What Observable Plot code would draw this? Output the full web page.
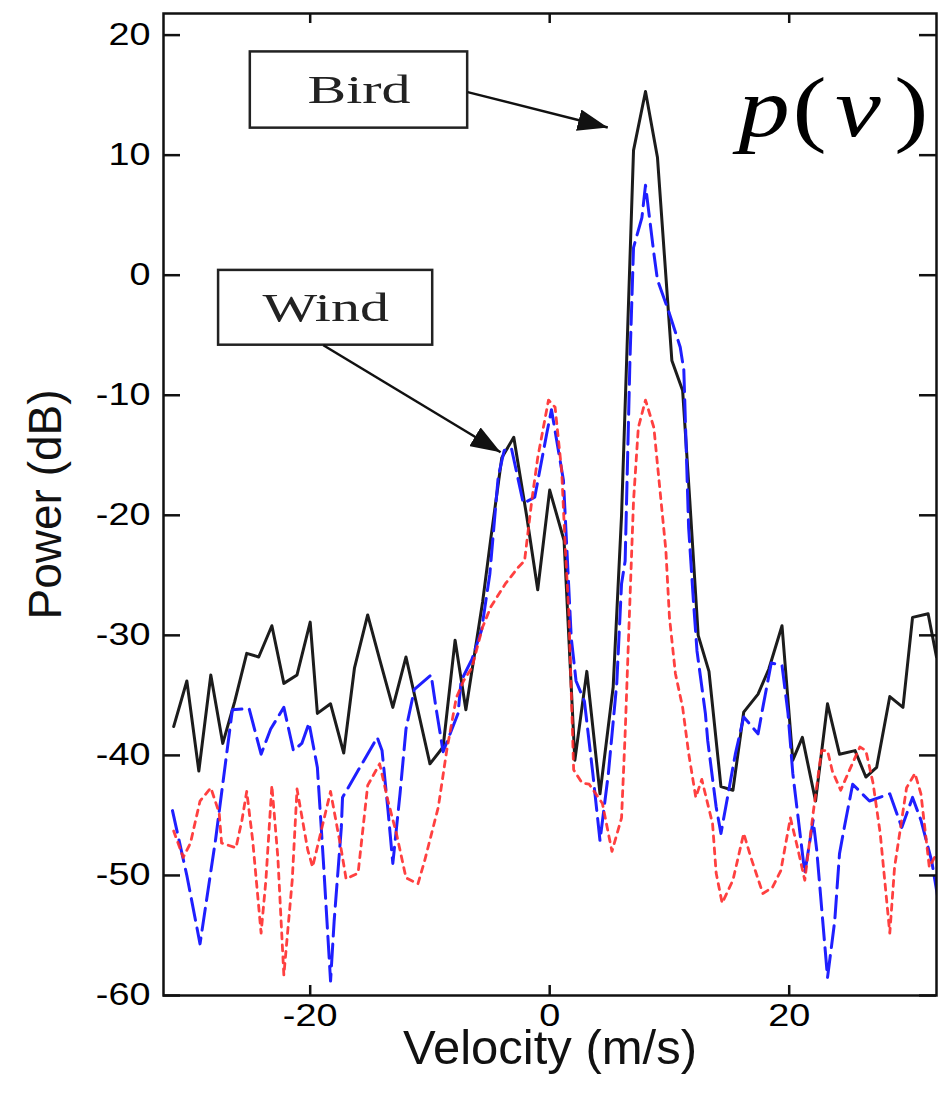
<!DOCTYPE html>
<html><head><meta charset="utf-8">
<script src="https://cdn.jsdelivr.net/npm/d3@7"></script>
<script src="https://cdn.jsdelivr.net/npm/@observablehq/plot@0.6"></script>
<style>
html,body{margin:0;padding:0;background:#fff;}
#chart{width:948px;height:1094px;overflow:hidden;}
</style></head><body><div id="chart"></div>
<script>
// ---- data: velocity (m/s) and power (dB) ----
const blackV = [-31.4,-30.3,-29.3,-28.3,-27.3,-26.3,-25.3,-24.3,-23.2,-22.2,-21.1,-20.0,-19.4,-18.3,-17.2,-16.3,-15.2,-14.2,-13.1,-12.0,-10.0,-8.9,-7.9,-7.0,-5.6,-4.9,-4.0,-3.0,-1.9,-1.0,0.0,1.2,2.1,3.1,4.2,5.3,6.0,7.0,8.0,9.0,10.2,11.1,11.7,12.4,13.3,14.3,15.3,16.2,17.4,18.3,19.4,20.3,21.1,22.2,23.2,24.2,25.5,26.4,27.3,28.4,29.5,30.3,31.6,32.3];
const blackP = [-37.6,-33.8,-41.3,-33.3,-39.0,-35.5,-31.5,-31.8,-29.2,-34.0,-33.3,-28.9,-36.5,-35.7,-39.8,-32.7,-28.3,-32.0,-36.0,-31.8,-40.7,-39.3,-30.4,-36.2,-27.2,-21.8,-15.2,-13.5,-20.2,-26.2,-17.9,-22.1,-40.4,-33.0,-43.2,-34.3,-20.0,10.4,15.3,9.8,-7.1,-9.6,-18.8,-30.0,-33.0,-42.6,-42.9,-36.4,-34.9,-32.8,-29.2,-40.4,-38.5,-43.8,-35.7,-39.9,-39.6,-41.8,-41.0,-35.1,-36.0,-28.5,-28.2,-31.8];

const blueV = [-31.5,-30.3,-29.2,-27.9,-26.5,-25.1,-24.1,-23.3,-22.2,-21.4,-20.7,-20.1,-19.4,-18.9,-18.3,-18.0,-17.4,-17.3,-14.4,-14.0,-13.5,-13.1,-12.5,-12.0,-11.3,-9.9,-9.5,-8.9,-7.65,-7.4,-6.5,-5.7,-5.0,-4.3,-3.8,-3.2,-2.2,-1.25,-0.25,0.15,1.15,1.8,2.2,2.9,3.6,4.2,4.9,5.6,6.0,6.3,6.7,7.0,7.7,8.0,8.7,9.0,10.0,10.9,11.2,11.6,12.0,12.3,13.0,13.2,13.9,14.3,15.1,15.5,16.2,17.4,17.8,18.5,19.4,19.9,20.3,21.3,22.0,22.3,23.2,23.8,24.2,24.6,25.3,26.7,28.4,29.4,30.3,31.0,31.9,32.4];
const blueP = [-44.6,-50.0,-55.7,-47.0,-36.2,-36.1,-39.9,-37.8,-36.0,-39.6,-39.0,-37.3,-41.0,-48.8,-58.8,-53.8,-46.0,-43.5,-38.5,-39.6,-44.6,-49.0,-43.2,-37.8,-34.5,-33.3,-36.0,-39.7,-36.5,-33.8,-32.0,-29.6,-24.9,-16.8,-14.6,-14.4,-19.0,-18.5,-13.2,-11.2,-17.1,-30.2,-33.8,-35.5,-41.5,-47.1,-41.5,-34.0,-25.7,-23.8,-7.1,2.3,4.8,7.5,1.8,-0.4,-3.2,-6.0,-7.9,-21.0,-27.1,-31.3,-36.5,-38.8,-44.3,-46.5,-42.1,-39.9,-36.8,-38.2,-36.0,-32.3,-32.5,-36.5,-41.5,-49.8,-45.4,-47.9,-58.5,-53.8,-48.2,-46.0,-42.4,-43.8,-43.2,-46.0,-43.5,-45.4,-48.8,-51.8];

const redV = [-31.4,-30.6,-30.0,-29.2,-28.3,-27.6,-27.4,-26.2,-25.7,-25.3,-24.8,-24.1,-23.7,-23.2,-22.7,-22.2,-21.5,-21.1,-20.2,-19.8,-18.3,-17.4,-17.0,-16.0,-15.2,-14.2,-13.5,-12.8,-12.0,-11.0,-10.45,-9.3,-8.6,-7.8,-7.2,-6.5,-5.6,-4.9,-3.7,-2.6,-2.1,-1.5,-1.0,-0.1,0.45,1.0,1.3,1.6,2.0,2.7,3.3,4.4,5.2,6.0,6.3,6.6,7.0,7.4,8.0,8.7,9.1,9.7,10.0,10.5,11.1,11.6,12.2,12.7,13.6,13.9,14.4,15.3,16.2,16.8,17.8,18.6,19.3,20.1,20.7,21.3,22.0,22.7,23.2,23.6,24.3,25.0,25.9,26.4,27.0,27.6,28.4,28.8,29.8,30.5,31.0,31.7,32.3];
const redP = [-46.3,-48.5,-47.3,-43.8,-42.7,-44.8,-47.3,-47.7,-45.4,-43.0,-47.1,-54.8,-50.4,-42.5,-48.5,-58.3,-50.4,-42.8,-47.9,-49.3,-43.0,-47.9,-50.3,-49.8,-42.5,-40.7,-43.8,-46.5,-50.2,-50.7,-48.8,-44.3,-39.6,-35.2,-33.8,-32.7,-29.3,-27.6,-25.7,-24.3,-23.8,-18.8,-15.2,-10.4,-11.0,-16.3,-22.7,-28.2,-41.2,-42.3,-42.4,-44.0,-48.0,-45.2,-38.2,-29.8,-18.8,-12.7,-10.4,-12.7,-16.8,-22.9,-28.5,-33.2,-36.0,-39.8,-43.5,-42.0,-45.7,-49.8,-52.3,-50.4,-46.5,-48.5,-51.5,-51.0,-49.6,-45.2,-47.7,-50.4,-44.8,-39.6,-39.6,-41.3,-42.9,-41.3,-39.3,-39.6,-42.3,-46.5,-54.8,-49.3,-42.7,-41.5,-43.2,-49.3,-48.2];

const xTicks = [-20, 0, 20];
const yTicks = [-60, -50, -40, -30, -20, -10, 0, 10, 20];
const xDomain = [-32.25, 32.3];
const yDomain = [-60, 21.8];

// annotations (data coordinates)
const boxLabels = ["Bird", "Wind"];
const boxX1 = [-25.0, -27.65], boxX2 = [-6.85, -9.77];
const boxY1 = [12.25, -5.83], boxY2 = [18.6, 0.4];
const arrowX1 = [-6.85, -18.9], arrowY1 = [15.25, -5.83];
const arrowX2 = [4.85, -4.1], arrowY2 = [12.3, -14.75];
const pvGlyphs = ["p", "(", "v", ")"];
const pvX = [17.9, 21.7, 25.75, 30.2];
const pvItalic = [true, false, true, false];
const pvY = 13.8;

const toRows = (V, P) => V.map((v, i) => ({v, p: P[i]}));
const black = toRows(blackV, blackP);
const blue = toRows(blueV, blueP);
const red = toRows(redV, redP);
const boxes = boxLabels.map((label, i) => ({label, x1: boxX1[i], x2: boxX2[i], y1: boxY1[i], y2: boxY2[i]}));
const arrows = arrowX1.map((x1, i) => ({x1, y1: arrowY1[i], x2: arrowX2[i], y2: arrowY2[i]}));
const pv = pvGlyphs.map((g, i) => ({g, x: pvX[i], y: pvY, italic: pvItalic[i]}));

function filledArrow(color) {
  const m = d3.create("svg:marker")
    .attr("viewBox", "-30 -11 30 22")
    .attr("markerWidth", 30).attr("markerHeight", 22)
    .attr("markerUnits", "userSpaceOnUse")
    .attr("refX", 0).attr("refY", 0)
    .attr("orient", "auto");
  m.append("path").attr("d", "M-30,-11L0,0L-30,11Z").attr("fill", color).attr("stroke", "none");
  return m.node();
}

const W = 948, H = 1094, ML = 163, MR = 12, MT = 13, MB = 99;
const PW = W - ML - MR, PH = H - MT - MB;
const sans = "Liberation Sans, Arial, sans-serif";
const serif = "Liberation Serif, Times New Roman, serif";

const chart = Plot.plot({
  width: W, height: H,
  marginLeft: ML, marginRight: MR, marginTop: MT, marginBottom: MB,
  style: {background: "white", fontFamily: sans, color: "black"},
  x: {domain: xDomain},
  y: {domain: yDomain},
  marks: [
    Plot.line(black, {x: "v", y: "p", stroke: "#1c1c1c", strokeWidth: 3, clip: true}),
    Plot.line(blue, {x: "v", y: "p", stroke: "#1f1fff", strokeWidth: 3, strokeDasharray: "22,8", clip: true}),
    Plot.line(red, {x: "v", y: "p", stroke: "#ff2b2b", strokeWidth: 2.8, strokeDasharray: "6,6", strokeOpacity: 0.9, clip: true}),
    Plot.rect(boxes, {x1: "x1", x2: "x2", y1: "y1", y2: "y2", fill: "white", stroke: "#222", strokeWidth: 2.5}),
    Plot.text(boxes, {x: d => (d.x1 + d.x2) / 2, y: d => (d.y1 + d.y2) / 2, text: "label", fontFamily: serif, fontSize: 40, fill: "#222"}),
    Plot.link(arrows, {x1: "x1", y1: "y1", x2: "x2", y2: "y2", stroke: "#111", strokeWidth: 2.5, markerEnd: filledArrow}),
    Plot.text(pv.filter(d => d.italic), {x: "x", y: "y", text: "g", fontFamily: serif, fontStyle: "italic", fontSize: 84, fill: "black"}),
    Plot.text(pv.filter(d => !d.italic), {x: "x", y: "y", text: "g", fontFamily: serif, fontSize: 84, fill: "black"}),
    Plot.frame({stroke: "#111", strokeWidth: 2.5}),
    Plot.tickY(yTicks, {y: d => d, insetRight: PW - 17, stroke: "#111", strokeWidth: 2.5}),
    Plot.tickY(yTicks, {y: d => d, insetLeft: PW - 17, stroke: "#111", strokeWidth: 2.5}),
    Plot.tickX(xTicks, {x: d => d, insetTop: PH - 10, stroke: "#111", strokeWidth: 2.5}),
    Plot.tickX(xTicks, {x: d => d, insetBottom: PH - 10, stroke: "#111", strokeWidth: 2.5}),
    Plot.axisY({ticks: yTicks, tickSize: 0, tickPadding: 13, fontSize: 31, label: null, tickFormat: d => String(d)}),
    Plot.axisX({ticks: xTicks, tickSize: 0, tickPadding: 8, fontSize: 31, label: null, tickFormat: d => String(d)}),
    Plot.text(["Velocity (m/s)"], {frameAnchor: "bottom", lineAnchor: "middle", textAnchor: "middle", dy: 53, fontSize: 49, fill: "#111"}),
    Plot.text(["Power (dB)"], {frameAnchor: "left", lineAnchor: "middle", textAnchor: "middle", dx: -117, rotate: -90, fontSize: 46, fill: "#111"})
  ]
});

// the reference picture is stretched horizontally for some texts
function stretchX(t, s) {
  const xa = t.getAttribute("x");
  const x = xa != null && /^-?[\d.]+$/.test(xa) ? +xa : 0;
  const tr = t.getAttribute("transform") || "";
  t.setAttribute("transform", `${tr} translate(${x},0) scale(${s},1) translate(${-x},0)`.trim());
}
chart.querySelectorAll("text").forEach(t => {
  const g = t.closest("g");
  const lab = g ? (g.getAttribute("aria-label") || "") : "";
  const txt = t.textContent;
  if (/tick label/.test(lab)) stretchX(t, 1.22);
  else if (txt === "Bird" || txt === "Wind") stretchX(t, 1.45);
  else if (pvGlyphs.includes(txt)) stretchX(t, 1.22);
});
document.getElementById("chart").appendChild(chart);
</script>
</body></html>
